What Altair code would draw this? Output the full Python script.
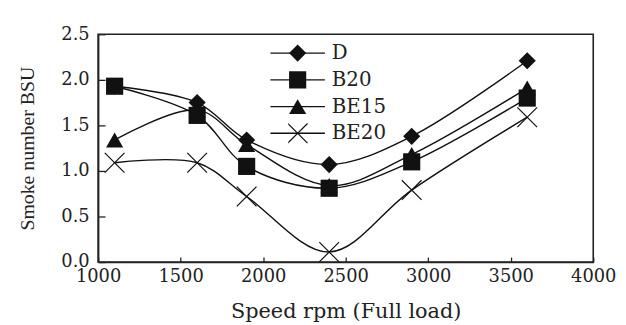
import altair as alt
import pandas as pd

speed = [1100, 1600, 1900, 2400, 2900, 3600]
series_names = ["D", "B20", "BE15", "BE20"]
smoke_D = [1.93, 1.75, 1.34, 1.07, 1.38, 2.21]
smoke_B20 = [1.93, 1.61, 1.05, 0.81, 1.10, 1.80]
smoke_BE15 = [1.34, 1.67, 1.29, 0.84, 1.18, 1.91]
smoke_BE20 = [1.09, 1.09, 0.72, 0.11, 0.79, 1.59]
x_ticks = [1000, 1500, 2000, 2500, 3000, 3500, 4000]
y_ticks = [0.0, 0.5, 1.0, 1.5, 2.0, 2.5]

rows = []
for name, vals in zip(series_names, [smoke_D, smoke_B20, smoke_BE15, smoke_BE20]):
    for s, v in zip(speed, vals):
        rows.append({"speed": s, "smoke": v, "series": name, "series2": name})
df = pd.DataFrame(rows)

SERIF_W = "DejaVu Serif"
SERIF_T = "Liberation Serif"
W, H = 500, 230

xscale = alt.Scale(domain=[1000, 4000], nice=False, zero=False)
yscale = alt.Scale(domain=[0, 2.5], nice=False)

# "x" marker drawn as two thin filled bars so it fills like the other markers
x_shape_path = ("M-1.1,-1.2L1.2,1.1L1.1,1.2L-1.2,-1.1Z"
                "M-1.2,1.1L1.1,-1.2L1.2,-1.1L-1.1,1.2Z")

base = alt.Chart(df)

lines = base.mark_line(interpolate="catmull-rom", strokeWidth=1.4).encode(
    x=alt.X("speed:Q", scale=xscale,
            axis=alt.Axis(orient="bottom", values=x_ticks, ticks=False, domain=True,
                          domainColor="#222", domainWidth=1.6, grid=False,
                          labelFont=SERIF_W, labelFontSize=18, labelColor="#222", labelPadding=6,
                          labelFlush=False, format="d",
                          title="Speed rpm (Full load)", titleFont=SERIF_W, titleFontSize=21,
                          titleFontWeight="normal", titleColor="#222", titlePadding=15)),
    y=alt.Y("smoke:Q", scale=yscale,
            axis=alt.Axis(orient="left", values=y_ticks, ticks=False, domain=True,
                          domainColor="#222", domainWidth=1.6, grid=False,
                          labelFont=SERIF_W, labelFontSize=18, labelColor="#222", labelPadding=9,
                          labelFlush=False, format=".1f",
                          title="Smoke number BSU", titleFont=SERIF_T, titleFontSize=20,
                          titleFontWeight="normal", titleColor="#222", titlePadding=24)),
    color=alt.Color("series:N",
                    scale=alt.Scale(domain=series_names, range=["#111"] * 4),
                    legend=alt.Legend(orient="none", legendX=173, legendY=5.5, title=None,
                                      symbolType="stroke", symbolSize=3025, symbolStrokeWidth=1.4,
                                      clipHeight=27, rowPadding=0, padding=0,
                                      labelFont=SERIF_W, labelFontSize=20, labelColor="#222",
                                      labelOffset=6)),
)

points = base.mark_point(filled=True, fill="#111", size=300, opacity=1).encode(
    x=alt.X("speed:Q", scale=xscale,
            axis=alt.Axis(orient="top", offset=-H, values=x_ticks, ticks=True, tickSize=5,
                          tickWidth=1.3, tickColor="#222", labels=False, domain=False,
                          grid=False, title=None)),
    y=alt.Y("smoke:Q", scale=yscale,
            axis=alt.Axis(orient="right", offset=-W, values=y_ticks, ticks=True, tickSize=7,
                          tickWidth=1.3, tickColor="#222", labels=False, domain=False,
                          grid=False, title=None)),
    shape=alt.Shape("series2:N",
                    scale=alt.Scale(domain=series_names,
                                    range=["diamond", "square", "triangle-up", x_shape_path]),
                    legend=alt.Legend(orient="none", legendX=192, legendY=5.5, title=None,
                                      symbolSize=300, symbolFillColor="#111",
                                      symbolOpacity=1,
                                      clipHeight=27, rowPadding=0, padding=0,
                                      labelExpr="''")),
)

chart = alt.layer(lines, points).resolve_axis(x="independent", y="independent").resolve_legend(
    color="independent", shape="independent"
).properties(
    width=W, height=H,
    autosize=alt.AutoSizeParams(type="none"),
    padding={"left": 91, "top": 25, "right": 25, "bottom": 60},
    background="white",
    title=alt.TitleParams("(a)", anchor="start", frame="group", orient="top", offset=16,
                          dx=-91, baseline="alphabetic", font=SERIF_T, fontSize=14,
                          fontWeight="normal", color="#444"),
).configure_view(stroke="#222", strokeWidth=1.6)

chart.save("out.html", embed_options={"renderer": "svg", "actions": False})
